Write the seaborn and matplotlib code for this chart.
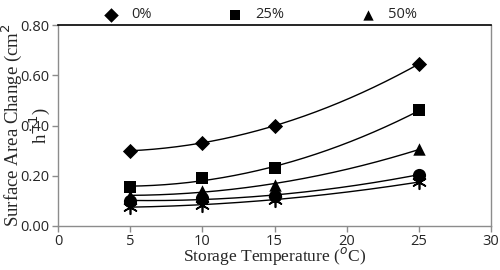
import numpy as np
import pandas as pd
import seaborn as sns
import matplotlib.pyplot as plt

# --- Data ---
temps = [5, 10, 15, 25]
series_names = ["0%", "25%", "50%", "75%", "100%"]
s0 = [0.30, 0.33, 0.40, 0.645]
s25 = [0.155, 0.19, 0.23, 0.46]
s50 = [0.12, 0.14, 0.165, 0.305]
s75 = [0.10, 0.11, 0.12, 0.205]
s100 = [0.075, 0.085, 0.105, 0.175]
values = [s0, s25, s50, s75, s100]

markers = ["D", "s", "^", "o", (6, 2, 0)]
msizes = [60, 80, 80, 90, 95]

df = pd.DataFrame({
    "Temp": temps * len(series_names),
    "Change": sum(values, []),
    "Series": np.repeat(series_names, len(temps)),
})

# --- 2nd order polynomial trendlines (like Excel) ---
xfit = np.linspace(min(temps), max(temps), 200)
fits = []
for name, ys in zip(series_names, values):
    coef = np.polyfit(temps, ys, 2)
    fits.append(pd.DataFrame({"Temp": xfit, "Change": np.polyval(coef, xfit), "Series": name}))
fit_df = pd.concat(fits)

# --- Plot ---
sns.set_theme(style="white")
fig = plt.figure(figsize=(5, 2.7), dpi=100)
ax = fig.add_axes([0.116, 0.163, 0.866, 0.744])

pal = {n: "black" for n in series_names}
sns.lineplot(data=fit_df, x="Temp", y="Change", hue="Series", palette=pal,
             linewidth=1.0, legend=False, ax=ax)
handles = []
for name, m, s in zip(series_names, markers, msizes):
    sub = df[df["Series"] == name]
    h = ax.scatter(sub["Temp"], sub["Change"], marker=m, s=s, color="black",
                   linewidths=1.2 if isinstance(m, tuple) else 0, zorder=3, label=name)
    handles.append(h)

ax.set_xlim(0, 30)
ax.set_ylim(0, 0.8)
ax.set_xticks([0, 5, 10, 15, 20, 25, 30])
ax.set_yticks([0, 0.2, 0.4, 0.6, 0.8])
ax.set_yticklabels([f"{v:.2f}" for v in [0, 0.2, 0.4, 0.6, 0.8]])
ax.tick_params(axis="both", which="both", direction="out", length=4, width=1,
               color="#8c8c8c", labelsize=10.5, pad=2)
ax.tick_params(axis="x", bottom=True)
ax.tick_params(axis="y", left=True)
for lbl in ax.get_xticklabels() + ax.get_yticklabels():
    lbl.set_family("Open Sans")

for side in ["left", "bottom", "right"]:
    ax.spines[side].set_color("#8c8c8c")
    ax.spines[side].set_linewidth(1)
ax.spines["top"].set_color("black")
ax.spines["top"].set_linewidth(1.2)

ax.set_xlabel("Storage Temperature ($^{o}$C)", family="Liberation Serif",
              fontsize=12.5, labelpad=-3)
ax.set_ylabel("Surface Area Change (cm$^{2}$\nh$^{-1}$)", family="Liberation Serif",
              fontsize=13.5, labelpad=-23)

leg = fig.legend(handles[:3], series_names[:3], loc="center left", ncol=3,
                 bbox_to_anchor=(0.181, 0.945), frameon=False,
                 columnspacing=5.2, handletextpad=0.9, handlelength=1.0,
                 prop={"family": "Open Sans", "size": 10.5})
for h in leg.legend_handles:
    h.set_sizes([55])

fig.savefig("out.png", dpi=100)
